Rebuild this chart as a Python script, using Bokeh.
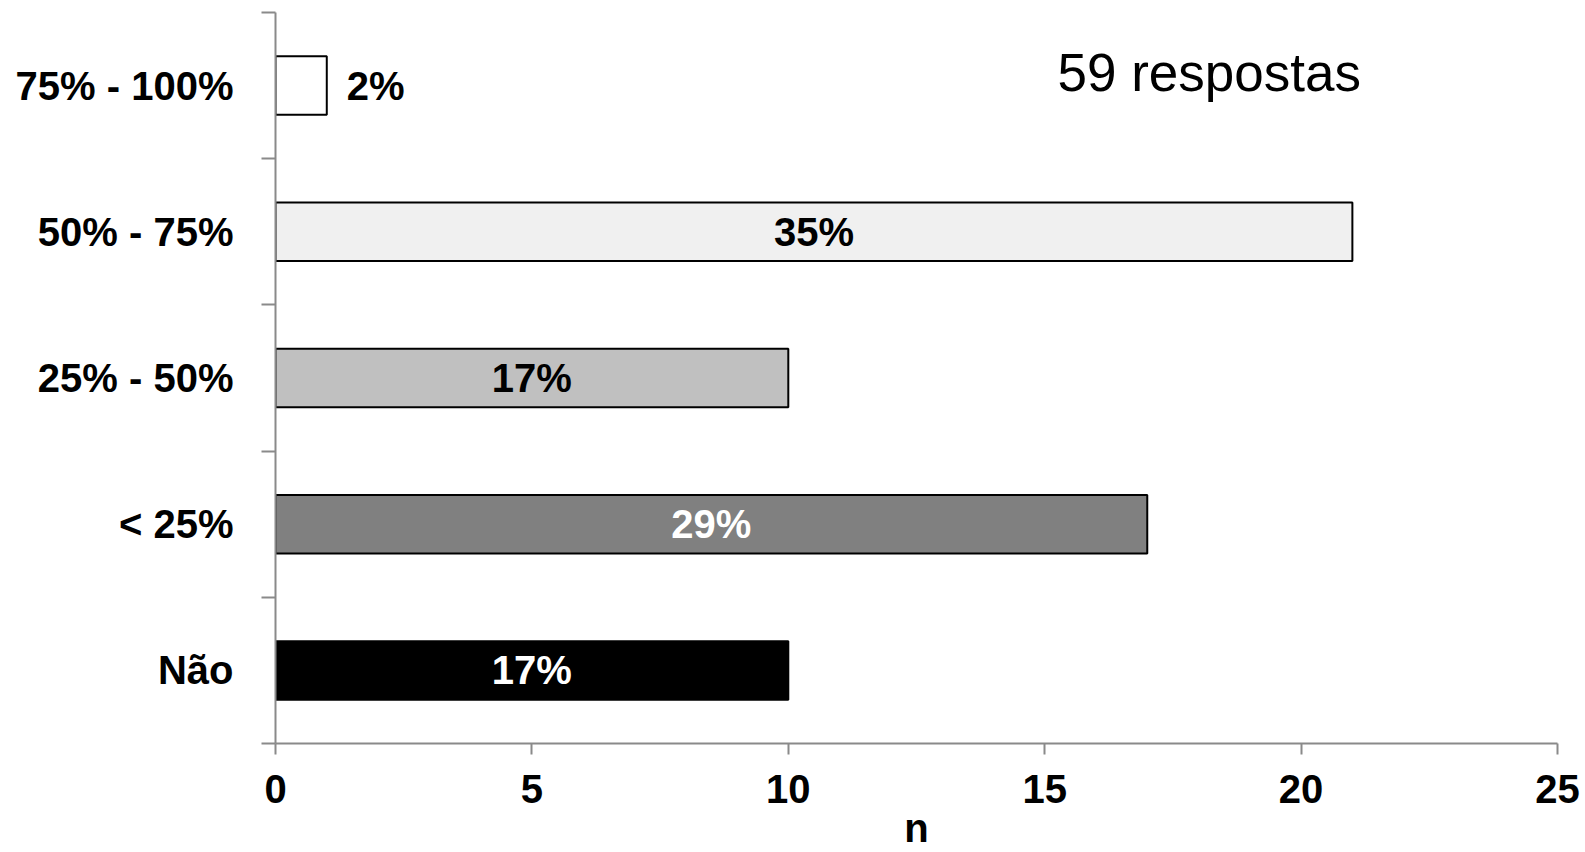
from bokeh.plotting import figure
from bokeh.models import ColumnDataSource, FixedTicker, Label, Range1d
from bokeh.core.properties import value
from bokeh.embed import file_html
from bokeh.resources import INLINE

categories = ["Não", "< 25%", "25% - 50%", "50% - 75%", "75% - 100%"]
counts = [10, 17, 10, 21, 1]
pct_labels = ["17%", "29%", "17%", "35%", "2%"]
fill_colors = ["#000000", "#808080", "#c0c0c0", "#f0f0f0", "#ffffff"]
label_colors = ["#ffffff", "#ffffff", "#000000", "#000000", "#000000"]
x_ticks = [0, 5, 10, 15, 20, 25]
x_title = "n"
total_text = "59 respostas"

FONT = "Liberation Sans"
FS = "40px"

ypos = [i + 0.5 for i in range(len(categories))]
inside = [c >= 3 for c in counts]
lx = [c / 2 if ins else c for c, ins in zip(counts, inside)]
lalign = ["center" if ins else "left" for ins in inside]
loff = [0 if ins else 20 for ins in inside]

src = ColumnDataSource(dict(y=ypos, right=counts, fill=fill_colors, lx=lx,
                            txt=pct_labels, tcol=label_colors, align=lalign, off=loff))

p = figure(width=1580, height=852, output_backend="svg", toolbar_location=None,
           x_range=Range1d(0, 25), y_range=Range1d(0, 5),
           min_border_left=275, min_border_top=12, min_border_right=23, min_border_bottom=100)
p.outline_line_color = None
p.xgrid.visible = False
p.ygrid.visible = False
p.background_fill_color = "white"

p.hbar(y="y", left=0, right="right", height=0.4, source=src,
       fill_color="fill", line_color="#000000", line_width=2)

p.text(x="lx", y="y", text="txt", source=src, text_color="tcol",
       text_align="align", x_offset="off", text_baseline="middle",
       text_font=value(FONT), text_font_style="bold", text_font_size=FS)

p.add_layout(Label(x=15.25, y=4.59, text=total_text, text_font=FONT,
                   text_font_size="53px", text_color="#000000",
                   text_align="left", text_baseline="middle"))

axc = "#8a8a8a"
xa = p.xaxis[0]
xa.ticker = FixedTicker(ticks=x_ticks, minor_ticks=[])
xa.axis_line_color = axc
xa.axis_line_width = 2
xa.major_tick_line_color = axc
xa.major_tick_line_width = 2
xa.major_tick_in = 0
xa.major_tick_out = 11
xa.minor_tick_line_color = None
xa.major_label_text_font = FONT
xa.major_label_text_font_style = "bold"
xa.major_label_text_font_size = FS
xa.major_label_text_color = "#000000"
xa.major_label_standoff = 20
xa.axis_label = x_title
xa.axis_label_text_font = FONT
xa.axis_label_text_font_style = "bold"
xa.axis_label_text_font_size = FS
xa.axis_label_text_color = "#000000"
xa.axis_label_standoff = 0

ya = p.yaxis[0]
ya.ticker = FixedTicker(ticks=ypos, minor_ticks=[0, 1, 2, 3, 4, 5])
ya.major_label_overrides = {y: c for y, c in zip(ypos, categories)}
ya.axis_line_color = axc
ya.axis_line_width = 2
ya.major_tick_line_color = None
ya.major_tick_in = 0
ya.major_tick_out = 0
ya.minor_tick_line_color = axc
ya.minor_tick_line_width = 2
ya.minor_tick_in = 0
ya.minor_tick_out = 14
ya.major_label_text_font = FONT
ya.major_label_text_font_style = "bold"
ya.major_label_text_font_size = FS
ya.major_label_text_color = "#000000"
ya.major_label_standoff = 28

open("out.html", "w").write(file_html(p, INLINE))
